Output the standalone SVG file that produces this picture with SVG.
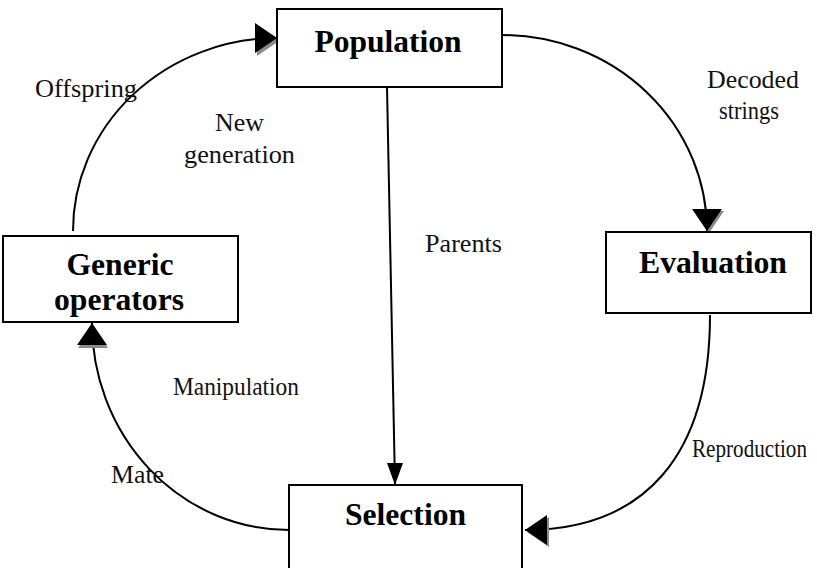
<svg xmlns="http://www.w3.org/2000/svg" width="817" height="568" viewBox="0 0 817 568">
<style>
  .box { fill: #fff; stroke: #000; stroke-width: 2; }
  text { font-family: "Liberation Serif", "Noto Serif", "DejaVu Serif", "Times New Roman", Times, serif; }
  .title { font-weight: bold; font-size: 31.5px; fill: #000; text-anchor: middle; }
  .lbl { font-size: 26px; fill: #111; }
  .conn { fill: none; stroke: #000; stroke-width: 2; }
  .ah { fill: #000; }
  .sh { fill: #8a8a8a; }
</style>
<defs>
  <marker id="mR" markerUnits="userSpaceOnUse" orient="0" refX="22" refY="15" markerWidth="30" markerHeight="36" overflow="visible">
    <polygon class="sh" points="2,3 24,18 2,33"/>
    <polygon class="ah" points="0,0 22,15 0,30"/>
  </marker>
  <marker id="mD" markerUnits="userSpaceOnUse" orient="0" refX="15" refY="22" markerWidth="36" markerHeight="30" overflow="visible">
    <polygon class="sh" points="2,2 32,2 17,24"/>
    <polygon class="ah" points="0,0 30,0 15,22"/>
  </marker>
  <marker id="mL" markerUnits="userSpaceOnUse" orient="0" refX="0" refY="15" markerWidth="30" markerHeight="36" overflow="visible">
    <polygon class="sh" points="24,2 2,17 24,32"/>
    <polygon class="ah" points="22,0 0,15 22,30"/>
  </marker>
  <marker id="mU" markerUnits="userSpaceOnUse" orient="0" refX="15" refY="0" markerWidth="36" markerHeight="30" overflow="visible">
    <polygon class="sh" points="1,25 16,3 31,25"/>
    <polygon class="ah" points="0,22 15,0 30,22"/>
  </marker>
  <marker id="mP" markerUnits="userSpaceOnUse" orient="0" refX="8" refY="22" markerWidth="20" markerHeight="26" overflow="visible">
    <polygon class="ah" points="0,0 16,0 8,22"/>
  </marker>
</defs>

<g id="connectors">
  <path class="conn" d="M73,231 A205,193 0 0 1 277,38" marker-end="url(#mR)"/>
  <path class="conn" d="M502,35 A205,196 0 0 1 707,231" marker-end="url(#mD)"/>
  <path class="conn" d="M710,315 C710,455 645,530 525,530" marker-end="url(#mL)"/>
  <path class="conn" d="M289,530 A197,207 0 0 1 92,323" marker-end="url(#mU)"/>
  <path class="conn" d="M387,87 L395,485" marker-end="url(#mP)"/>
</g>

<g id="population">
  <rect class="box" x="277" y="9" width="225" height="78"/>
  <text class="title" x="388" y="52" textLength="147" lengthAdjust="spacingAndGlyphs">Population</text>
</g>

<g id="evaluation">
  <rect class="box" x="606" y="232" width="205" height="81"/>
  <text class="title" x="713" y="273" textLength="148" lengthAdjust="spacingAndGlyphs">Evaluation</text>
</g>

<g id="generic-operators">
  <rect class="box" x="3" y="236" width="235" height="86"/>
  <text class="title" x="120" y="275" textLength="107" lengthAdjust="spacingAndGlyphs">Generic</text>
  <text class="title" x="119" y="310" textLength="130" lengthAdjust="spacingAndGlyphs">operators</text>
</g>

<g id="selection">
  <rect class="box" x="289" y="485" width="233" height="100"/>
  <text class="title" x="405.5" y="525" textLength="121" lengthAdjust="spacingAndGlyphs">Selection</text>
</g>

<g id="labels">
  <text class="lbl" x="35" y="97" textLength="102" lengthAdjust="spacingAndGlyphs">Offspring</text>
  <text class="lbl" x="215" y="131" textLength="49" lengthAdjust="spacingAndGlyphs">New</text>
  <text class="lbl" x="184" y="163" textLength="111" lengthAdjust="spacingAndGlyphs">generation</text>
  <text class="lbl" x="707" y="88" font-size="25" textLength="92" lengthAdjust="spacingAndGlyphs">Decoded</text>
  <text class="lbl" x="719" y="119" font-size="24" textLength="60" lengthAdjust="spacingAndGlyphs">strings</text>
  <text class="lbl" x="425" y="252" textLength="77" lengthAdjust="spacingAndGlyphs">Parents</text>
  <text class="lbl" x="173" y="395" font-size="23.5" textLength="126" lengthAdjust="spacingAndGlyphs">Manipulation</text>
  <text class="lbl" x="111" y="483" textLength="53" lengthAdjust="spacingAndGlyphs">Mate</text>
  <text class="lbl" x="692" y="457" font-size="21" textLength="115" lengthAdjust="spacingAndGlyphs">Reproduction</text>
</g>
</svg>
